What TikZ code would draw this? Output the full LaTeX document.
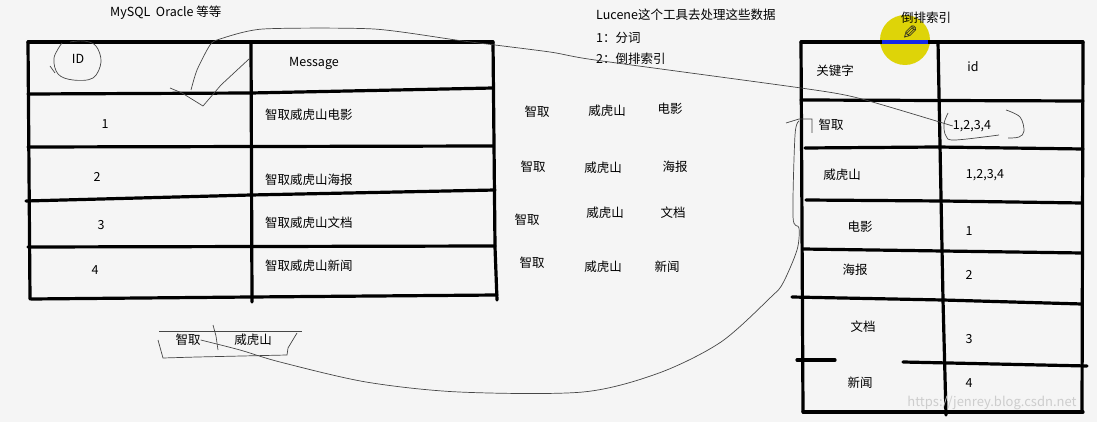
\documentclass[tikz,border=0pt]{standalone}
\usepackage{fontspec}
\setmainfont{Noto Sans CJK SC}
\newfontfamily\symfont{DejaVu Sans}
\usetikzlibrary{positioning}
\definecolor{paper}{RGB}{245,245,245}
\definecolor{pen}{RGB}{70,70,70}
\definecolor{marker}{RGB}{222,212,8}
\definecolor{hilite}{RGB}{20,40,230}
\definecolor{wmark}{RGB}{205,205,205}
\tikzset{
  tblline/.style={line width=3.2pt,line cap=round},
  hand/.style={pen,line width=0.7pt},
  word/.style={font=\fontsize{12.5}{14}\selectfont,inner sep=0pt},
}
\begin{document}
\begin{tikzpicture}[x=1pt,y=-1pt,every node/.style={word}]
  \fill[paper] (0,0) rectangle (1097,422);
  \useasboundingbox (0,0) rectangle (1097,422);

  \fill[marker] (905,40) circle (25);

  \draw[tblline] (28,42)--(493,42);
  \draw[tblline] (28,94)--(251,93)--(493,88);
  \draw[tblline] (28,147)--(493,146);
  \draw[tblline] (26,201)--(251,195)--(495,190);
  \draw[tblline] (28,247)--(495,246);
  \draw[tblline] (31,299)--(251,297)--(497,295);
  \draw[tblline] (28,42)--(30,299);
  \draw[tblline] (251,42)--(252,302);
  \draw[tblline] (493,42)--(495,247)--(497,300);

  \draw[tblline] (801,42)--(1083,42);
  \draw[line width=3.2pt,hilite] (882,42)--(928,42);
  \draw[tblline] (801,100)--(1083,101);
  \draw[tblline] (805,148)--(938,147)--(1083,149);
  \draw[tblline] (806,200)--(943,201)--(1082,203);
  \draw[tblline] (803,249)--(943,251)--(1082,253);
  \draw[tblline] (792,297)--(943,300)--(1082,304);
  \draw[tblline] (797,360)--(835,360);
  \draw[tblline] (903,362)--(1087,366);
  \draw[tblline] (803,412)--(1083,412);
  \draw[tblline] (801,42)--(803,412);
  \draw[tblline] (938,42)--(943,300)--(946,415);
  \draw[tblline] (1083,42)--(1082,412);

  \node[anchor=west] (dbs) at (110,13) {MySQL\ \ Oracle 等等};
  \node (idh) at (78,59) {ID};
  \node (msgh) at (314,63) {Message};
  \node (id1) at (105,124) {1};
  \node (id2) at (97,177) {2};
  \node (id3) at (101,225) {3};
  \node (id4) at (95,270) {4};
  \node[anchor=west] (msg1) at (265,115) {智取威虎山电影};
  \node[anchor=west] (msg2) at (265,180) {智取威虎山海报};
  \node[anchor=west] (msg3) at (265,223) {智取威虎山文档};
  \node[anchor=west] (msg4) at (265,266) {智取威虎山新闻};

  \node[anchor=west] (tool) at (596,15) {Lucene这个工具去处理这些数据};
  \node[anchor=west] (step1) at (596,38) {1：分词};
  \node[anchor=west] (step2) at (596,59) {2：倒排索引};

  \node (a1) at (537,112) {智取};
  \node (b1) at (607,111) {威虎山};
  \node (c1) at (670,109) {电影};
  \node (a2) at (533,167) {智取};
  \node (b2) at (603,168) {威虎山};
  \node (c2) at (675,167) {海报};
  \node (a3) at (527,220) {智取};
  \node (b3) at (605,213) {威虎山};
  \node (c3) at (673,213) {文档};
  \node (a4) at (532,263) {智取};
  \node (b4) at (603,267) {威虎山};
  \node (c4) at (667,267) {新闻};

  \node (inv) at (926,18) {倒排索引};
  \node[font=\symfont\fontsize{19}{19}\selectfont,black!85,xscale=-1] (cursor) at (910,33) {✎};
  \node (kwh) at (835,71) {关键字};
  \node (idsh) at (973,67) {id};
  \node (kw1) at (831,125) {智取};
  \node (ids1) at (972,126) {1,2,3,4};
  \node (kw2) at (842,175) {威虎山};
  \node (ids2) at (985,175) {1,2,3,4};
  \node (kw3) at (860,227) {电影};
  \node (ids3) at (969,231) {1};
  \node (kw4) at (855,270) {海报};
  \node (ids4) at (969,275) {2};
  \node (kw5) at (863,327) {文档};
  \node (ids5) at (969,339) {3};
  \node (kw6) at (860,383) {新闻};
  \node (ids6) at (969,383) {4};

  \node (tokA) at (188,340) {智取};
  \node (tokB) at (253,340) {威虎山};
  \node[font=\fontsize{13}{15}\selectfont,wmark] (site) at (992,403) {https://jenrey.blog.csdn.net};

  \draw[hand] plot[smooth,tension=0.6] coordinates {(62,43) (54,58) (58,74) (73,80) (93,78) (101,62) (96,46) (84,41) (70,42)};
  \draw[hand] (50,66)--(55,73);
  \draw[hand] (170,88)--(182,93)--(203,106)--(221,85)--(249,59);
  \draw[hand] plot[smooth,tension=0.4] coordinates {(191,90) (197,70) (210,45) (220,39) (263,29) (374,29) (463,41) (550,52) (595,60) (801,88) (858,98) (ids1.west)};
  \draw[hand] plot[smooth,tension=0.6] coordinates {(948,113) (944,124) (946,136) (955,140) (999,135)};
  \draw[hand] plot[smooth,tension=0.6] coordinates {(1006,110) (1020,117) (1024,131) (1019,137) (1008,138)};

  \draw[hand] (786,123)--(799,119)--(812,119)--(812,133);
  \draw[hand] plot[smooth,tension=0.5] coordinates {(799,121) (795,135) (793,217) (799,228) (797,250) (783,283) (771,297) (721,342) (659,373) (583,392) (459,392) (366,382) (280,362) (240,350) (tokA.east)};

  \draw[hand] (159,331)--(302,331);
  \draw[hand] (158,340)--(163,358)--(197,357)--(287,355)--(288,348)--(297,333);
  \draw[hand] (213,325)--(216,336)--(218,350);
\end{tikzpicture}
\end{document}
